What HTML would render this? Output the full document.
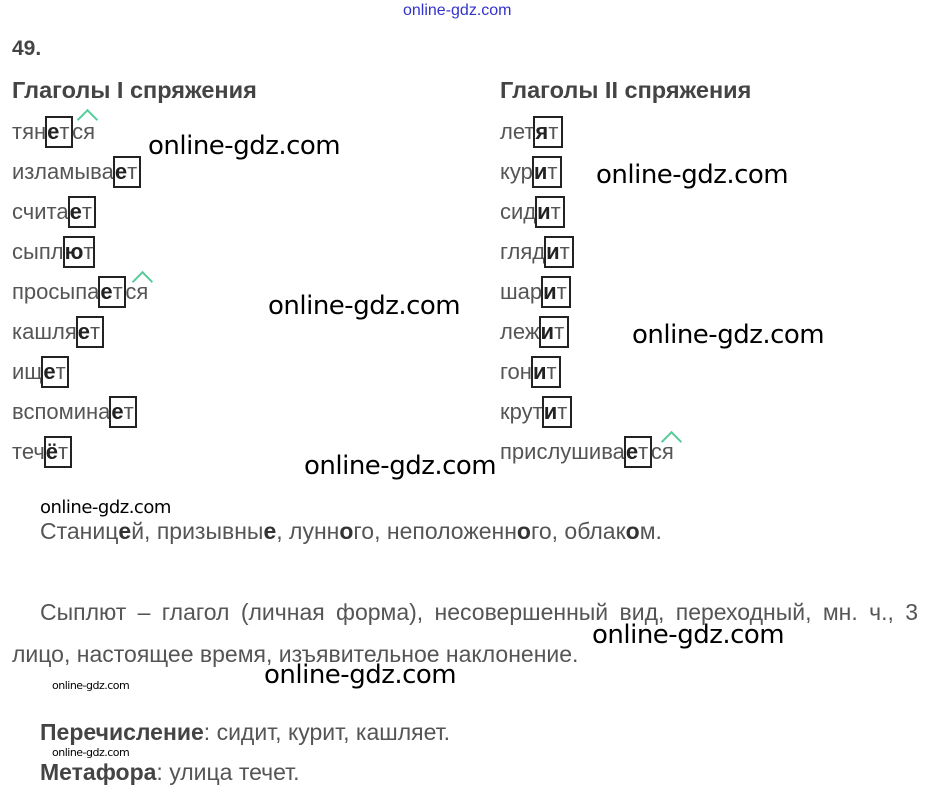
<!DOCTYPE html>
<html><head><meta charset="utf-8"><style>
body{margin:0;width:926px;height:799px;background:#fff;position:relative;overflow:hidden;font-family:"Liberation Sans","DejaVu Sans",sans-serif;color:#555;}
.a{position:absolute;white-space:nowrap;}
.w{font-size:22px;line-height:32px;height:32px;}
.b{display:inline-block;vertical-align:top;border:2px solid #222;height:28px;line-height:28px;width:24px;overflow:visible;white-space:nowrap;margin:0 -1px;}
.b.x{width:28px;}
.b.y{width:26px;}
.v{font-weight:bold;color:#222;}
.h{font-size:23.5px;font-weight:bold;color:#444;}
.wm{position:absolute;white-space:nowrap;color:#000;font-family:"DejaVu Sans","Liberation Sans",sans-serif;letter-spacing:-0.5px;}
.big{font-size:26px;}
.p{position:absolute;font-size:23px;color:#555;white-space:nowrap;}
.c{position:absolute;border-left:2px solid #5c9;border-top:2px solid #5c9;transform:rotate(45deg);width:13px;height:13px;}
</style></head><body>
<div class="a" style="left:403px;top:2px;font-size:16px;color:#33c;">online-gdz.com</div>
<div class="a" style="left:12px;top:37px;font-size:21px;font-weight:bold;color:#444;">49.</div>
<div class="a h" style="left:12px;top:77px;">Глаголы I спряжения</div>
<div class="a h" style="left:500px;top:77px;">Глаголы II спряжения</div>

<div class="a w" style="left:12px;top:116px;">тян<span class="b"><span class="v">е</span>т</span>ся</div>
<div class="a w" style="left:12px;top:156px;">изламыва<span class="b"><span class="v">е</span>т</span></div>
<div class="a w" style="left:12px;top:196px;">счита<span class="b"><span class="v">е</span>т</span></div>
<div class="a w" style="left:12px;top:236px;">сыпл<span class="b x"><span class="v">ю</span>т</span></div>
<div class="a w" style="left:12px;top:276px;">просыпа<span class="b"><span class="v">е</span>т</span>ся</div>
<div class="a w" style="left:12px;top:316px;">кашля<span class="b"><span class="v">е</span>т</span></div>
<div class="a w" style="left:12px;top:356px;">ищ<span class="b"><span class="v">е</span>т</span></div>
<div class="a w" style="left:12px;top:396px;">вспомина<span class="b"><span class="v">е</span>т</span></div>
<div class="a w" style="left:12px;top:436px;">теч<span class="b"><span class="v">ё</span>т</span></div>

<div class="a w" style="left:500px;top:116px;">лет<span class="b y"><span class="v">я</span>т</span></div>
<div class="a w" style="left:500px;top:156px;">кур<span class="b y"><span class="v">и</span>т</span></div>
<div class="a w" style="left:500px;top:196px;">сид<span class="b y"><span class="v">и</span>т</span></div>
<div class="a w" style="left:500px;top:236px;">гляд<span class="b y"><span class="v">и</span>т</span></div>
<div class="a w" style="left:500px;top:276px;">шар<span class="b y"><span class="v">и</span>т</span></div>
<div class="a w" style="left:500px;top:316px;">леж<span class="b y"><span class="v">и</span>т</span></div>
<div class="a w" style="left:500px;top:356px;">гон<span class="b y"><span class="v">и</span>т</span></div>
<div class="a w" style="left:500px;top:396px;">крут<span class="b y"><span class="v">и</span>т</span></div>
<div class="a w" style="left:500px;top:436px;">прислушива<span class="b"><span class="v">е</span>т</span>ся</div>

<div class="c" style="left:80px;top:112px;"></div>
<div class="c" style="left:135px;top:274px;"></div>
<div class="c" style="left:664px;top:434px;"></div>

<div class="wm big" style="left:148px;top:131px;">online-gdz.com</div>
<div class="wm big" style="left:596px;top:160px;">online-gdz.com</div>
<div class="wm big" style="left:268px;top:291px;">online-gdz.com</div>
<div class="wm big" style="left:632px;top:320px;">online-gdz.com</div>
<div class="wm big" style="left:304px;top:451px;">online-gdz.com</div>
<div class="wm big" style="left:592px;top:620px;">online-gdz.com</div>
<div class="wm big" style="left:264px;top:660px;">online-gdz.com</div>
<div class="wm" style="left:40px;top:497px;font-size:18px;">online-gdz.com</div>
<div class="wm" style="left:52px;top:679px;font-size:11px;">online-gdz.com</div>
<div class="wm" style="left:52px;top:746px;font-size:11px;">online-gdz.com</div>

<div class="p" style="left:40px;top:518px;">Станиц<b style="color:#333">е</b>й, призывны<b style="color:#333">е</b>, лунн<b style="color:#333">о</b>го, неположенн<b style="color:#333">о</b>го, облак<b style="color:#333">о</b>м.</div>
<div class="p" style="left:40px;top:599px;width:878px;text-align:justify;text-align-last:justify;">Сыплют – глагол (личная форма), несовершенный вид, переходный, мн. ч., 3</div>
<div class="p" style="left:12px;top:641px;">лицо, настоящее время, изъявительное наклонение.</div>
<div class="p" style="left:40px;top:719px;"><b style="color:#444">Перечисление</b>: сидит, курит, кашляет.</div>
<div class="p" style="left:40px;top:759px;"><b style="color:#444">Метафора</b>: улица течет.</div>
</body></html>
